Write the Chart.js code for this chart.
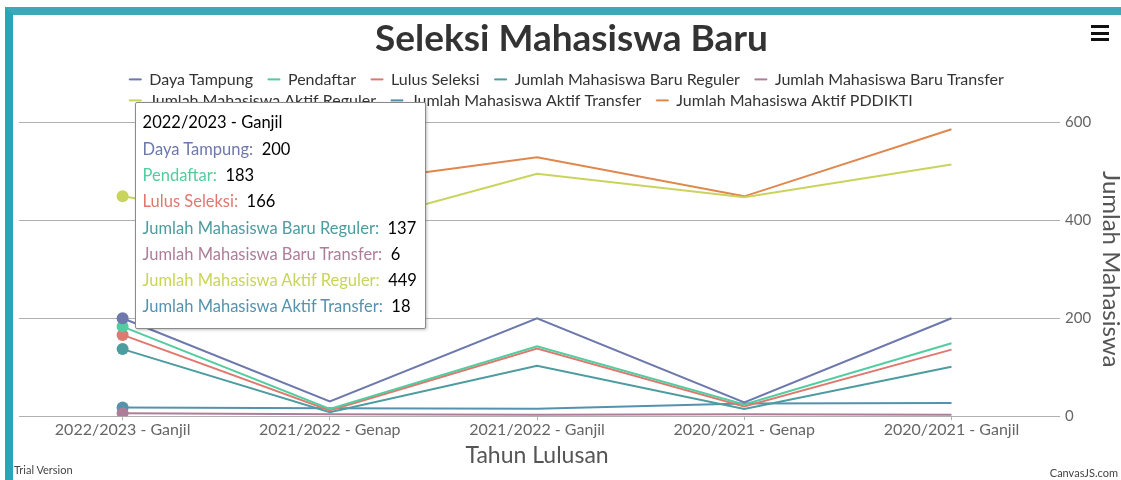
<!DOCTYPE html>
<html>
<head>
<meta charset="utf-8">
<script src="https://cdn.jsdelivr.net/npm/chart.js@4/dist/chart.umd.min.js"></script>
<style>
  html, body { margin: 0; padding: 0; background: #fff; }
  #frame {
    position: absolute; left: 5px; top: 7px; width: 1108px; height: 465px;
    border-top: 8px solid #3aa9b9; border-left: 8px solid #27a5b9;
    background: #fff; font-family: Lato, sans-serif;
  }
  #wrap { position: absolute; left: 0; top: 0; width: 1108px; height: 465px; }
  #tip {
    position: absolute; opacity: 0; pointer-events: none; white-space: nowrap;
    background: #fff; border: 1px solid #8a8a8a; border-radius: 2px;
    box-shadow: 1px 1px 3px rgba(0,0,0,0.25);
    padding: 6px 8px 8px 7px; font-size: 16.5px; color: #000;
  }
  #tip .row { height: 26.3px; line-height: 26.3px; }
  #menu { position: absolute; left: 1078px; top: 10px; width: 18px; }
  #menu div { height: 3px; background: #111; margin-bottom: 3.5px; }
  .mark { position: absolute; font-size: 11px; color: #444; }
</style>
</head>
<body>
<div id="frame">
  <div id="wrap"><canvas id="chart"></canvas></div>
  <div id="tip"></div>
  <div id="menu"><div></div><div></div><div></div></div>
  <span class="mark" style="left:1px; top:448px;">Trial Version</span>
  <span class="mark" style="right:3px; top:451px;">CanvasJS.com</span>
</div>
<script>
const categories = ['2022/2023 - Ganjil', '2021/2022 - Genap', '2021/2022 - Ganjil', '2020/2021 - Genap', '2020/2021 - Ganjil'];

const dayaTampung   = [200, 30, 200, 28, 200];
const pendaftar     = [183, 15, 143, 24, 149];
const lulusSeleksi  = [166, 12, 138, 20, 136];
const baruReguler   = [137, 8, 103, 15, 101];
const baruTransfer  = [6, 4, 3, 4, 3];
const aktifReguler  = [449, 380, 495, 447, 514];
const aktifTransfer = [18, 16, 15, 26, 27];
const aktifPddikti  = [null, 472, 529, 449, 586];

const yTicks = [0, 200, 400, 600];
const activeIndex = 0;

function series(label, data, color) {
  return {
    label: label,
    data: data,
    borderColor: color,
    backgroundColor: color,
    borderWidth: 2,
    tension: 0,
    pointRadius: ctx => ctx.dataIndex === activeIndex ? 6 : 0,
    pointHoverRadius: ctx => ctx.dataIndex === activeIndex ? 6 : 0,
    pointBorderWidth: 0,
    pointHoverBorderWidth: 0,
    pointHoverBackgroundColor: color,
    pointHoverBorderColor: color,
  };
}

function externalTooltip(context) {
  const chart = context.chart;
  const tooltip = context.tooltip;
  const el = document.getElementById('tip');
  if (tooltip.opacity === 0) {
    el.style.opacity = 0;
    return;
  }
  let html = '<div class="row">' + tooltip.title[0] + '</div>';
  tooltip.dataPoints.forEach(function (dp) {
    html += '<div class="row"><span style="color:' + dp.dataset.borderColor + '">' +
      dp.dataset.label + ':</span>&nbsp; ' + dp.formattedValue + '</div>';
  });
  el.innerHTML = html;
  el.style.opacity = 1;
  el.style.left = (tooltip.caretX + 12) + 'px';
  el.style.top = (chart.chartArea.top - 20) + 'px';
}

// legend: a little gap below it, and the second row starts where the first one does
const legendFit = {
  id: 'legendFit',
  beforeInit(chart) {
    const fit = chart.legend.fit;
    chart.legend.fit = function () {
      fit.bind(chart.legend)();
      this.height += 4;
      if (this.lineWidths && this.lineWidths.length > 1) {
        this.lineWidths[1] = this.lineWidths[0];
      }
    };
  }
};

const chart = new Chart(document.getElementById('chart'), {
  type: 'line',
  plugins: [legendFit],
  data: {
    labels: categories,
    datasets: [
      series('Daya Tampung', dayaTampung, '#6D78AD'),
      series('Pendaftar', pendaftar, '#51CDA0'),
      series('Lulus Seleksi', lulusSeleksi, '#DF7970'),
      series('Jumlah Mahasiswa Baru Reguler', baruReguler, '#4C9CA0'),
      series('Jumlah Mahasiswa Baru Transfer', baruTransfer, '#AE7D99'),
      series('Jumlah Mahasiswa Aktif Reguler', aktifReguler, '#C9D45C'),
      series('Jumlah Mahasiswa Aktif Transfer', aktifTransfer, '#5592AD'),
      series('Jumlah Mahasiswa Aktif PDDIKTI', aktifPddikti, '#DF874D'),
    ]
  },
  options: {
    responsive: true,
    maintainAspectRatio: false,
    animation: false,
    layout: {
      padding: { left: 1, right: -8, top: 0, bottom: 11 }
    },
    plugins: {
      title: {
        display: true,
        text: 'Seleksi Mahasiswa Baru',
        color: '#333',
        font: { family: 'Lato', size: 37, weight: 'bold' },
        padding: { top: 2, bottom: 5 }
      },
      legend: {
        labels: {
          color: '#333',
          font: { family: 'Lato', size: 16 },
          boxWidth: 12,
          boxHeight: 1,
          padding: 5,
          generateLabels: function (chart) {
            return Chart.defaults.plugins.legend.labels.generateLabels(chart).map(function (item) {
              item.text = item.text + '\u2002\u2009';
              item.lineWidth = 1;
              return item;
            });
          }
        }
      },
      tooltip: {
        enabled: false,
        mode: 'index',
        intersect: false,
        external: externalTooltip
      }
    },
    scales: {
      x: {
        offset: true,
        afterFit: function (scale) {
          scale.paddingLeft = 0;
          scale.paddingRight = 0;
        },
        grid: {
          offset: false,
          drawOnChartArea: false,
          drawTicks: true,
          tickLength: 4,
          color: '#b0b0b0'
        },
        border: { color: '#b0b0b0' },
        ticks: {
          color: '#666',
          font: { family: 'Lato', size: 16 },
          padding: 0,
          maxRotation: 0
        },
        title: {
          display: true,
          text: 'Tahun Lulusan',
          color: '#555',
          font: { family: 'Lato', size: 23 },
          padding: { top: 2, bottom: 0 }
        }
      },
      y: {
        position: 'right',
        min: yTicks[0],
        max: yTicks[yTicks.length - 1],
        afterBuildTicks: function (axis) {
          axis.ticks = yTicks.map(v => ({ value: v }));
        },
        grid: {
          color: '#b0b0b0',
          tickLength: 5
        },
        border: { display: false },
        ticks: {
          color: '#666',
          font: { family: 'Lato', size: 15 },
          padding: 5
        },
        title: {
          display: true,
          text: 'Jumlah Mahasiswa',
          color: '#555',
          font: { family: 'Lato', size: 24 },
          padding: { top: 4, bottom: 0 }
        }
      }
    }
  }
});

const active = chart.data.datasets
  .map((d, i) => ({ datasetIndex: i, index: activeIndex }))
  .filter(a => chart.data.datasets[a.datasetIndex].data[activeIndex] != null);
chart.setActiveElements(active);
chart.tooltip.setActiveElements(active, { x: 0, y: 0 });
chart.update();
</script>
</body>
</html>
